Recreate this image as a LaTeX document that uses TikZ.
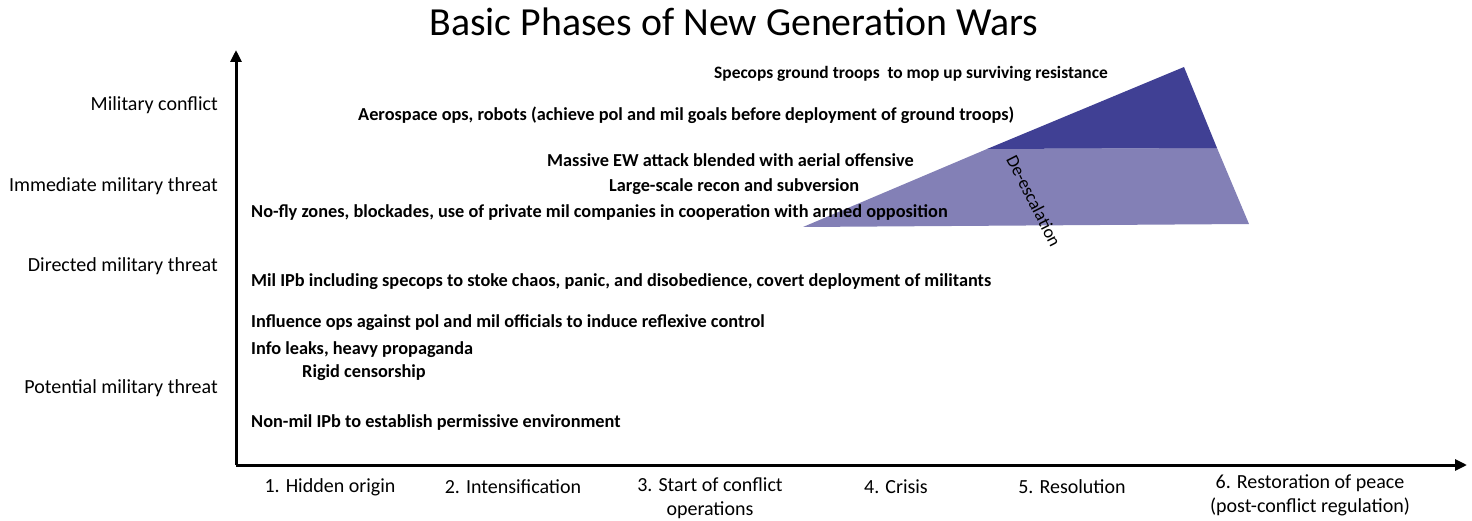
\documentclass[tikz,border=0pt]{standalone}
\usepackage{fontspec}
\setmainfont{Carlito}
\usetikzlibrary{arrows.meta}
\definecolor{darkv}{RGB}{64,64,148}
\definecolor{lightv}{RGB}{131,128,182}
\begin{document}
\begin{tikzpicture}[x=1pt,y=-1pt,
  lbl/.style={anchor=west,inner sep=0pt,font=\fontsize{18.3}{20}\selectfont\bfseries},
  lvl/.style={anchor=east,inner sep=0pt,font=\fontsize{20}{22}\selectfont},
  phase/.style={anchor=center,inner sep=0pt,align=center,font=\fontsize{20}{24}\selectfont},
  axis/.style={line width=3pt,-{Triangle[length=12pt,width=11pt]}}]
\useasboundingbox (0,0) rectangle (1472,521);
% triangle
\fill[lightv] (987,149) -- (1217,148) -- (1249,224) -- (803,227) -- cycle;
\fill[darkv] (1184,67) -- (1217,148) -- (987,149) -- cycle;
\node[rotate=-63,inner sep=0pt,font=\fontsize{18}{20}\selectfont] (desc) at (1034,201) {De-escalation};
% axes
\coordinate (o) at (236,465);
\coordinate (ytop) at (236,50);
\coordinate (xend) at (1467,465);
\draw[axis] (o) -- (ytop);
\draw[axis] (o) -- (xend);
% title
\node[inner sep=0pt,font=\fontsize{39.8}{44}\selectfont] (title) at (734,22) {Basic Phases of New Generation Wars};
% level labels
\node[lvl] (l1) at (218,105) {Military conflict};
\node[lvl] (l2) at (218,186) {Immediate military threat};
\node[lvl] (l3) at (218,266) {Directed military threat};
\node[lvl] (l4) at (218,388) {Potential military threat};
% activity labels
\node[lbl,font=\fontsize{17.4}{20}\selectfont\bfseries] (a1) at (714,74) {Specops ground troops \ to mop up surviving resistance};
\node[lbl] (a2) at (358,115) {Aerospace ops, robots (achieve pol and mil goals before deployment of ground troops)};
\node[lbl] (a3) at (547,160) {Massive EW attack blended with aerial offensive};
\node[lbl] (a4) at (609,187) {Large-scale recon and subversion};
\node[lbl] (a5) at (251,213) {No-fly zones, blockades, use of private mil companies in cooperation with armed opposition};
\node[lbl] (a6) at (251,282) {Mil IPb including specops to stoke chaos, panic, and disobedience, covert deployment of militants};
\node[lbl] (a7) at (251,323) {Influence ops against pol and mil officials to induce reflexive control};
\node[lbl] (a8) at (251,350) {Info leaks, heavy propaganda};
\node[lbl] (a9) at (302,373) {Rigid censorship};
\node[lbl] (a10) at (251,423) {Non-mil IPb to establish permissive environment};
% phases
\node[phase] (p1) at (330,487) {1. Hidden origin};
\node[phase] (p2) at (513,487) {2. Intensification};
\node[phase] (p3) at (710,498) {3. Start of conflict\\operations};
\node[phase] (p4) at (896,487) {4. Crisis};
\node[phase] (p5) at (1072,487) {5. Resolution};
\node[phase] (p6) at (1310,495) {6. Restoration of peace\\(post-conflict regulation)};
\end{tikzpicture}
\end{document}
